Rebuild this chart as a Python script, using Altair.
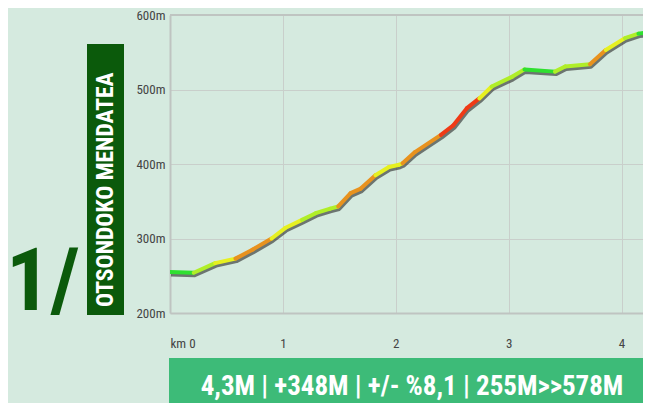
import altair as alt
import pandas as pd

# ---- data ----
km = [0.0, 0.21, 0.40, 0.58, 0.73, 0.90, 1.02, 1.17, 1.29, 1.42, 1.49, 1.60, 1.69,
      1.82, 1.94, 2.03, 2.06, 2.17, 2.40, 2.51, 2.63, 2.74, 2.85, 3.03, 3.14, 3.41,
      3.50, 3.72, 3.86, 4.03, 4.15, 4.30]
elev = [255, 254, 267, 273, 285, 300, 314, 325, 334, 340, 343, 361, 367,
        385, 396, 399, 401, 416, 439, 452, 475, 488, 504, 517, 527, 524,
        531, 534, 553, 569, 575, 578]
# slope class of each segment (between consecutive points)
grade = ["g0", "g1", "g2", "g3", "g3", "g2", "g2", "g1", "g1", "g1", "g3", "g3",
         "g3", "g2", "g2", "g2", "g3", "g3", "g4", "g4", "g4", "g2", "g1", "g1",
         "g0", "g1", "g1", "g3", "g2", "g1", "g0"]
grade_classes = ["g0", "g1", "g2", "g3", "g4"]
grade_colors = ["#2fe030", "#b0ee28", "#e6f020", "#e8921e", "#ef3a16"]

y_ticks = [200, 300, 400, 500, 600]
x_ticks = [0, 1, 2, 3, 4]

title_num = "1/"
title_name = "OTSONDOKO MENDATEA"
stats = "4,3M | +348M | +/- %8,1 | 255M>>578M"

W, H = 473, 298
FONT = "Roboto Condensed, Roboto, sans-serif"

profile = pd.DataFrame({"km": km, "elev": elev})
segs = pd.DataFrame({
    "km": km[:-1], "elev": elev[:-1],
    "km2": km[1:], "elev2": elev[1:],
    "grade": grade,
})
one = pd.DataFrame({"a": [0]})

xscale = alt.Scale(domain=[0, 4.19], nice=False, zero=False)
yscale = alt.Scale(domain=[200, 600], nice=False, zero=False)

xaxis = alt.Axis(values=x_ticks,
                 labelExpr="datum.value == 0 ? 'km 0' : format(datum.value, 'd')",
                 title=None, ticks=False, labelPadding=24, grid=True,
                 gridColor="#c9cfcb", gridWidth=1, domainColor="#bfc4c1", domainWidth=2,
                 labelFont=FONT, labelFontSize=13, labelColor="#444444")
yaxis = alt.Axis(values=y_ticks, labelExpr="datum.value + 'm'", title=None, ticks=False,
                 labelPadding=5, grid=True, gridColor="#c9cfcb", gridWidth=1,
                 domainColor="#bfc4c1", domainWidth=2,
                 labelFont=FONT, labelFontSize=13, labelColor="#444444")

base_axes = alt.Chart(profile).mark_line(opacity=0).encode(
    x=alt.X("km:Q", scale=xscale, axis=xaxis),
    y=alt.Y("elev:Q", scale=yscale, axis=yaxis),
)

top_rule = alt.Chart(one).mark_rule(color="#bfc4c1", strokeWidth=2).encode(
    x=alt.value(0), x2=alt.value(W), y=alt.value(0))

shadow = alt.Chart(profile).mark_line(color="#262626", strokeWidth=4, opacity=0.6,
                                      xOffset=1, yOffset=2.5, clip=True,
                                      strokeJoin="round").encode(
    x=alt.X("km:Q", scale=xscale), y=alt.Y("elev:Q", scale=yscale))

colored = alt.Chart(segs).mark_rule(strokeWidth=4, strokeCap="round", clip=True).encode(
    x=alt.X("km:Q", scale=xscale), y=alt.Y("elev:Q", scale=yscale),
    x2="km2:Q", y2="elev2:Q",
    color=alt.Color("grade:N", scale=alt.Scale(domain=grade_classes, range=grade_colors),
                    legend=None),
)

name_box = alt.Chart(one).mark_rect(color="#0b5a0b").encode(
    x=alt.value(-83), x2=alt.value(-46), y=alt.value(29), y2=alt.value(300))
name_text = alt.Chart(one).mark_text(text=title_name, angle=270, align="left",
                                     baseline="middle", font=FONT, fontSize=23.5,
                                     fontWeight="bold", color="white").encode(
    x=alt.value(-64.5), y=alt.value(292))
num_text = alt.Chart(one).mark_text(text=title_num, align="left", baseline="alphabetic",
                                    font=FONT, fontSize=88, fontWeight="bold",
                                    color="#0b5a0b").encode(
    x=alt.value(-164), y=alt.value(295))

bar = alt.Chart(one).mark_rect(color="#3dbb78").encode(
    x=alt.value(-1), x2=alt.value(W + 5), y=alt.value(343), y2=alt.value(400))
bar_text = alt.Chart(one).mark_text(text=stats, align="center", baseline="alphabetic",
                                    font=FONT, fontSize=27, fontWeight="bold",
                                    color="white").encode(
    x=alt.value(242), y=alt.value(380))

chart = alt.layer(base_axes, top_rule, shadow, colored, name_box, name_text, num_text,
                  bar, bar_text).properties(
    width=W, height=H,
    autosize=alt.AutoSizeParams(type="none"),
    padding={"left": 162, "top": 7, "right": 0, "bottom": 90},
    background="#d5eadf",
).configure_view(strokeWidth=0)

chart.save("out.html", embed_options={"renderer": "svg", "actions": False})
